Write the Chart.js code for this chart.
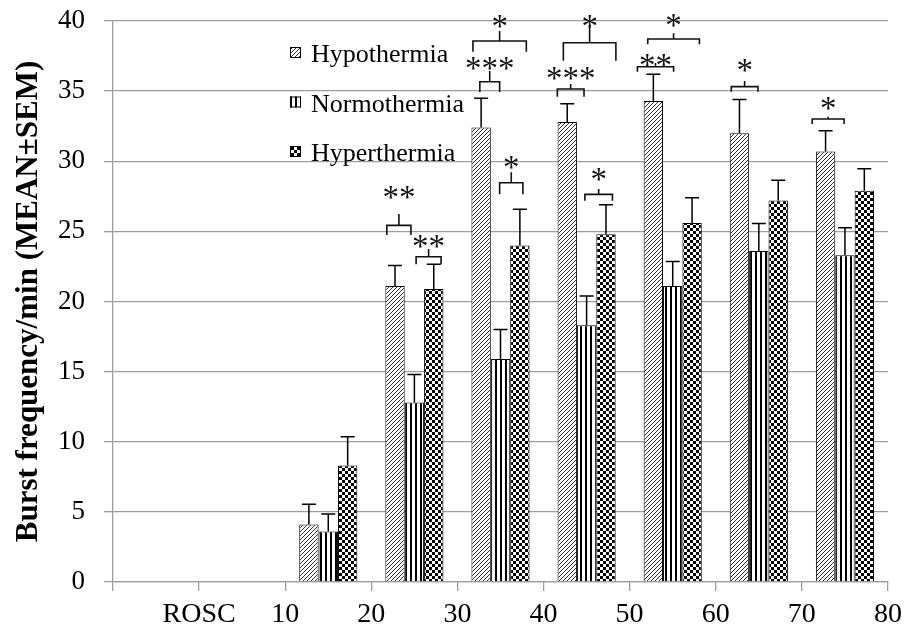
<!DOCTYPE html>
<html><head><meta charset="utf-8">
<script src="https://cdn.jsdelivr.net/npm/chart.js@4/dist/chart.umd.min.js"></script>
<style>html,body{margin:0;padding:0;background:#fff}#wrap{width:908px;height:635px;position:relative}</style>
</head><body><div id="wrap"><canvas id="c" width="908" height="635"></canvas></div>
<script>
// ---------- data ----------
const categories = ['ROSC','10','20','30','40','50','60','70','80'];
const seriesNames = ['Hypothermia','Normothermia','Hyperthermia'];
const hypoMean  = [null,null,4.1,21.1,32.4,32.8,34.3,32.0,30.7];
const normoMean = [null,null,3.6,12.8,15.9,18.3,21.1,23.6,23.3];
const hyperMean = [null,null,8.3,20.9,24.0,24.8,25.6,27.2,27.9];
const hypoSem   = [null,null,1.45,1.46,2.1,1.3,1.9,2.4,1.47];
const normoSem  = [null,null,1.25,2.0,2.1,2.1,1.75,1.96,1.95];
const hyperSem  = [null,null,2.06,1.76,2.58,2.1,1.8,1.45,1.56];
const yTitle = 'Burst frequency/min (MEAN\u00B1SEM)';
// significance brackets (x in category units, y in data units)
const sigMarks = [
 {x0:2.68,x1:2.96,y:25.43,leg:24.74,stem:26.24,ty:27.8,text:'**'},
 {x0:3.02,x1:3.31,y:23.19,leg:22.65,stem:23.74,ty:24.31,text:'**'},
 {x0:3.76,x1:3.99,y:35.67,leg:34.94,stem:36.43,ty:37.0,text:'***'},
 {x0:3.68,x1:4.30,y:38.57,leg:37.81,stem:39.29,ty:40.02,text:'*'},
 {x0:3.99,x1:4.26,y:28.47,leg:27.64,stem:29.21,ty:29.97,text:'*'},
 {x0:4.66,x1:4.97,y:35.15,leg:34.6,stem:35.51,ty:36.31,text:'***'},
 {x0:4.73,x1:5.34,y:38.45,leg:37.17,stem:39.71,ty:40.02,text:'*'},
 {x0:4.98,x1:5.30,y:27.64,leg:27.19,stem:28.02,ty:29.09,text:'*'},
 {x0:5.59,x1:6.01,y:36.74,leg:36.38,stem:37.0,ty:37.22,text:'**'},
 {x0:5.71,x1:6.31,y:38.72,leg:38.34,stem:39.12,ty:40.07,text:'*'},
 {x0:6.68,x1:6.99,y:35.32,leg:34.96,stem:35.72,ty:36.86,text:'*'},
 {x0:7.62,x1:7.99,y:33.01,leg:32.66,stem:33.18,ty:34.13,text:'*'}
];

// ---------- patterns ----------
const ctxMain = document.getElementById('c').getContext('2d');
function makePattern(type){
  const c = document.createElement('canvas');
  const x = c.getContext('2d');
  if (type === 'diag') {
    c.width = 4; c.height = 4;
    x.fillStyle = '#fff'; x.fillRect(0,0,4,4);
    x.strokeStyle = '#333'; x.lineWidth = 1;
    x.beginPath();
    x.moveTo(-1,5); x.lineTo(5,-1);
    x.moveTo(-1,1); x.lineTo(1,-1);
    x.moveTo(3,5); x.lineTo(5,3);
    x.stroke();
  } else if (type === 'vert') {
    c.width = 5; c.height = 2;
    x.fillStyle = '#fff'; x.fillRect(0,0,5,2);
    x.fillStyle = '#000'; x.fillRect(0,0,2,2);
  } else {
    c.width = 6; c.height = 6;
    x.fillStyle = '#fff'; x.fillRect(0,0,6,6);
    x.fillStyle = '#000'; x.fillRect(0,0,3,3); x.fillRect(3,3,3,3);
  }
  return ctxMain.createPattern(c,'repeat');
}
const fills = [makePattern('diag'), makePattern('vert'), makePattern('check')];

// ---------- plugins ----------
const errorBars = {
  id:'errorBars',
  afterDatasetsDraw(chart){
    const {ctx} = chart; const y = chart.scales.y;
    ctx.save(); ctx.strokeStyle = '#000'; ctx.lineWidth = 1.5;
    chart.data.datasets.forEach((ds,di)=>{
      const meta = chart.getDatasetMeta(di);
      meta.data.forEach((el,i)=>{
        const m = ds.data[i], s = ds.sem[i];
        if (m == null || s == null) return;
        const yt = y.getPixelForValue(m + s);
        ctx.beginPath();
        ctx.moveTo(el.x, el.y); ctx.lineTo(el.x, yt);
        ctx.moveTo(el.x - 7, yt); ctx.lineTo(el.x + 7, yt);
        ctx.stroke();
      });
    });
    ctx.restore();
  }
};
const sigPlugin = {
  id:'sig',
  afterDatasetsDraw(chart){
    const {ctx} = chart; const xs = chart.scales.x, ys = chart.scales.y;
    ctx.save(); ctx.strokeStyle = '#111'; ctx.lineWidth = 1.6; ctx.fillStyle = '#111';
    const fs = 33;
    ctx.font = fs + 'px "Liberation Serif", "Times New Roman", serif';
    ctx.textAlign = 'center'; ctx.textBaseline = 'alphabetic';
    sigMarks.forEach(s=>{
      const a = xs.getPixelForValue(s.x0), b = xs.getPixelForValue(s.x1);
      const yy = ys.getPixelForValue(s.y), yl = ys.getPixelForValue(s.leg), yst = ys.getPixelForValue(s.stem);
      const mid = (a + b) / 2;
      ctx.beginPath();
      ctx.moveTo(a, yl); ctx.lineTo(a, yy); ctx.lineTo(b, yy); ctx.lineTo(b, yl);
      ctx.moveTo(mid, yy); ctx.lineTo(mid, yst);
      ctx.stroke();
      ctx.fillText(s.text, mid, ys.getPixelForValue(s.ty) + fs * 0.48);
    });
    ctx.restore();
  }
};
const legendPlugin = {
  id:'legendInside',
  afterDraw(chart){
    const {ctx, chartArea} = chart;
    ctx.save();
    ctx.font = '26px "Liberation Serif", "Times New Roman", serif';
    ctx.textAlign = 'left'; ctx.textBaseline = 'alphabetic';
    chart.data.datasets.forEach((ds,i)=>{
      const bx = chartArea.left + 177, by = chartArea.top + 26 + i * 49.5;
      ctx.fillStyle = ds.backgroundColor; ctx.fillRect(bx, by, 11, 11);
      ctx.strokeStyle = '#000'; ctx.lineWidth = 1; ctx.strokeRect(bx + 0.5, by + 0.5, 10, 10);
      ctx.fillStyle = '#000';
      ctx.fillText(ds.label, bx + 21, by + 15);
    });
    ctx.restore();
  }
};

// ---------- chart ----------
const means = [hypoMean, normoMean, hyperMean];
const sems = [hypoSem, normoSem, hyperSem];
new Chart(ctxMain, {
  type:'bar',
  data:{
    labels: categories,
    datasets: seriesNames.map((n,i)=>({
      label:n, data:means[i], sem:sems[i],
      backgroundColor: fills[i], borderColor:'#000', borderWidth:1,
      categoryPercentage:0.675, barPercentage:1.0
    }))
  },
  options:{
    responsive:false, animation:false, devicePixelRatio:1,
    layout:{padding:{left:0,right:20,top:21,bottom:0}},
    plugins:{legend:{display:false}, tooltip:{enabled:false}},
    scales:{
      x:{
        type:'category', offset:true,
        grid:{offset:true, drawOnChartArea:false, color:'#9e9e9e', lineWidth:1.3, tickLength:9},
        border:{color:'#9e9e9e', width:1.3},
        ticks:{labelOffset:43, maxRotation:0, autoSkip:false, color:'#000', padding:7,
          font:{family:'"Liberation Serif", "Times New Roman", serif', size:28}},
        afterFit(s){ s.height = 53; s.paddingLeft = 0; s.paddingRight = 0; }
      },
      y:{
        min:0, max:40,
        ticks:{stepSize:5, color:'#000', padding:19,
          font:{family:'"Liberation Serif", "Times New Roman", serif', size:27}},
        grid:{color:'#9e9e9e', lineWidth:1.3, tickLength:9},
        border:{color:'#9e9e9e', width:1.3},
        title:{display:true, text:yTitle, color:'#000', padding:{top:10,bottom:0},
          font:{family:'"Liberation Serif", "Times New Roman", serif', size:31, weight:'bold'}},
        afterFit(s){ s.width = 113; s.paddingTop = 0; s.paddingBottom = 0; }
      }
    }
  },
  plugins:[errorBars, sigPlugin, legendPlugin]
});
</script>
</body></html>
